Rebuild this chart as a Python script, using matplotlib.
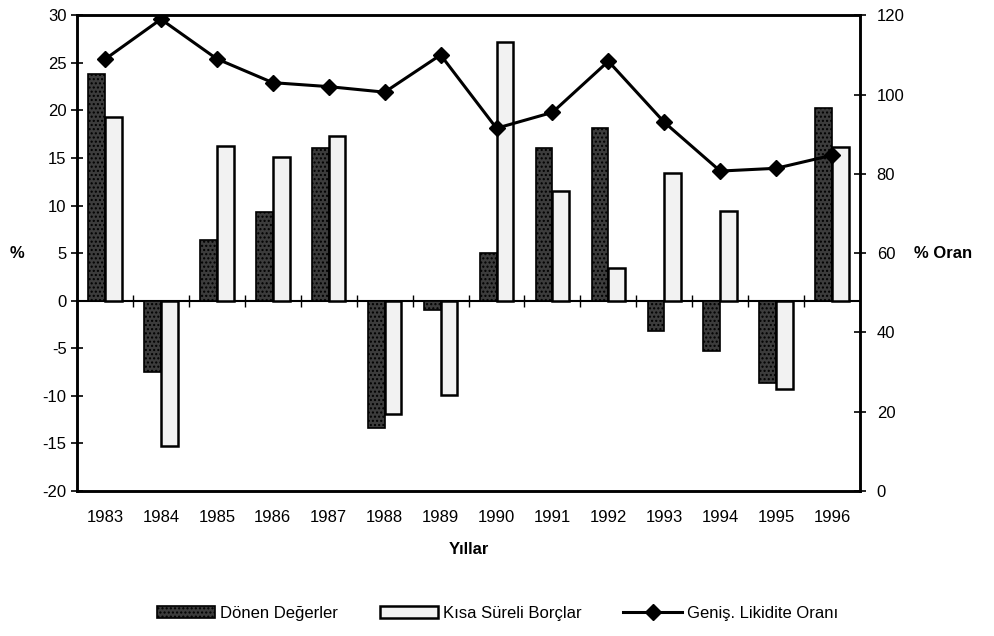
import numpy as np
import matplotlib
matplotlib.use('Agg')
import matplotlib.pyplot as plt

plt.rcParams['font.family'] = ['Liberation Sans', 'DejaVu Sans']
plt.rcParams['axes.unicode_minus'] = False
plt.rcParams['hatch.color'] = '#9a9a9a'

years = ['1983', '1984', '1985', '1986', '1987', '1988', '1989',
         '1990', '1991', '1992', '1993', '1994', '1995', '1996']
donen = [23.8, -7.5, 6.4, 9.3, 16.1, -13.4, -1.0, 5.0, 16.1, 18.2, -3.2, -5.3, -8.6, 20.3]
kisa = [19.3, -15.3, 16.3, 15.1, 17.3, -11.9, -9.9, 27.2, 11.5, 3.4, 13.4, 9.4, -9.3, 16.2]
likidite = [108.9, 119.0, 109.0, 103.0, 102.0, 100.6, 110.0, 91.5, 95.5, 108.4, 93.0, 80.7, 81.4, 84.7]

x = np.arange(len(years))
w = 0.3

fig = plt.figure(figsize=(9.95, 6.36), dpi=100)
ax = fig.add_axes([0.0774, 0.228, 0.787, 0.748])

b1 = ax.bar(x - w / 2, donen, w, color='#3c3c3c', edgecolor='black', linewidth=1.2,
            hatch='....', label='Dönen Değerler')
b2 = ax.bar(x + w / 2, kisa, w, color='#f2f2f2', edgecolor='black', linewidth=1.8,
            label='Kısa Süreli Borçlar')

ax.set_xlim(-0.5, len(years) - 0.5)
ax.set_ylim(-20, 30)
ax.set_yticks(range(-20, 31, 5))
ax.set_xticks(x)
ax.set_xticklabels(years)
ax.tick_params(axis='x', length=0, pad=14, labelsize=12)
ax.tick_params(axis='y', direction='inout', length=8, width=1.2, labelsize=12)
for s in ax.spines.values():
    s.set_linewidth(1.8)

# zero line with category boundary ticks (y=0 sits at 40% of the axes height)
zero = ax.secondary_xaxis(0.4)
zero.set_xticks(np.arange(0.5, len(years) - 1, 1.0))
zero.tick_params(direction='inout', length=8, width=1, labelbottom=False)
zero.set_xticklabels([])
zero.spines['bottom'].set_linewidth(1.5)

ax2 = ax.twinx()
ln, = ax2.plot(x, likidite, color='black', linewidth=2.2, marker='D', markersize=8,
               label='Geniş. Likidite Oranı')
ax2.set_ylim(0, 120)
ax2.set_yticks(range(0, 121, 20))
ax2.tick_params(axis='y', direction='inout', length=8, width=1.2, labelsize=12, pad=8)
for s in ax2.spines.values():
    s.set_linewidth(1.8)

ax.set_ylabel('%', rotation=0, fontsize=12, fontweight='bold', labelpad=18, va='center')
ax2.set_ylabel('% Oran', rotation=0, fontsize=12, fontweight='bold', labelpad=28, va='center')
ax.set_xlabel('Yıllar', fontsize=12, fontweight='bold', labelpad=12)

fig.legend(handles=[b1, b2, ln], loc='lower center', bbox_to_anchor=(0.5, 0.0),
           ncol=3, frameon=False, fontsize=12, handlelength=3.5, columnspacing=2.5,
           handletextpad=0.3)

fig.savefig('out.png', dpi=100)
